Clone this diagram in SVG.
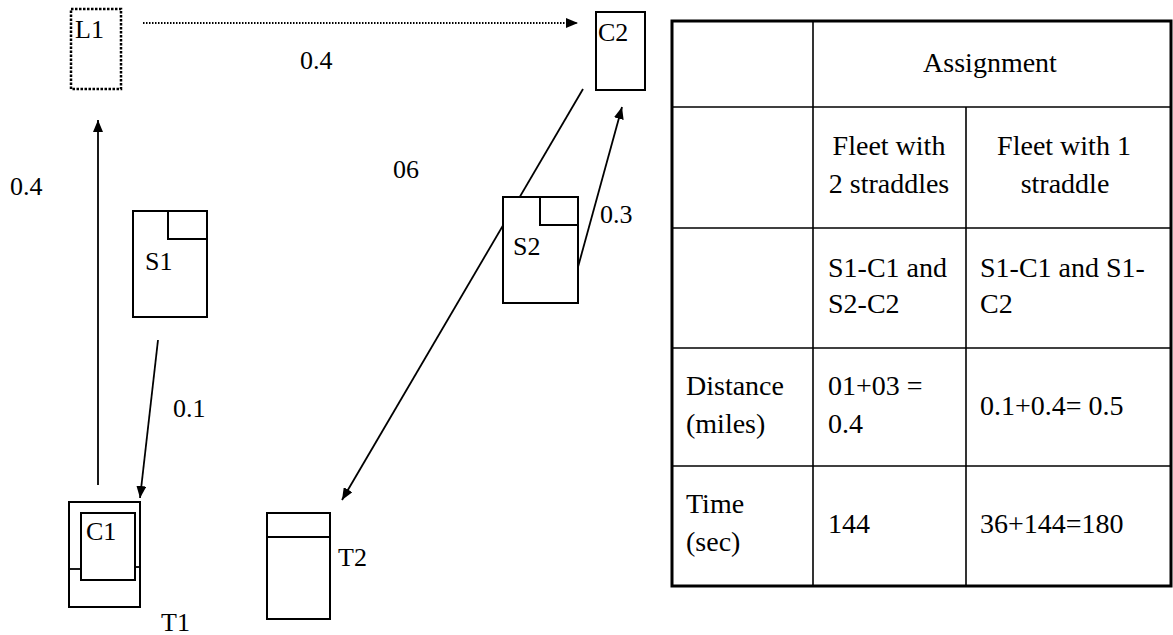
<svg xmlns="http://www.w3.org/2000/svg" width="1173" height="635" viewBox="0 0 1173 635">
<style>
.lbl{font-size:26px}
.tb{font-size:28px}
.box{fill:#fff;stroke:#000;stroke-width:2}
.ln{fill:none;stroke:#000;stroke-width:1.8}
.tl{stroke:#000;stroke-width:1.6}
.to{fill:none;stroke:#000;stroke-width:3}
</style>
<defs>
<marker id="ah" viewBox="0 0 12 10" refX="12" refY="5" markerWidth="12" markerHeight="10" markerUnits="userSpaceOnUse" orient="auto">
<path d="M0,0 L12,5 L0,10 z" fill="#000"/>
</marker>
</defs>
<rect width="1173" height="635" fill="#fff"/>
<g font-family="Liberation Serif, Tinos, Times New Roman, DejaVu Serif, serif" fill="#000">
<g id="connectors">
<line class="ln" x1="143" y1="23" x2="578" y2="23" stroke-dasharray="1.5,1.5" marker-end="url(#ah)"/>
<line class="ln" x1="98" y1="485" x2="98" y2="120" marker-end="url(#ah)"/>
<line class="ln" x1="158" y1="340" x2="140" y2="498" marker-end="url(#ah)"/>
<line class="ln" x1="578" y1="267" x2="622" y2="107" marker-end="url(#ah)"/>
<line class="ln" x1="583" y1="89" x2="342" y2="500" marker-end="url(#ah)"/>
<text class="lbl" x="300" y="69">0.4</text>
<text class="lbl" x="10" y="195">0.4</text>
<text class="lbl" x="393" y="178">06</text>
<text class="lbl" x="600" y="223">0.3</text>
<text class="lbl" x="173" y="417">0.1</text>
</g>
<g id="L1">
<rect x="71" y="9" width="50" height="80" fill="#fff" stroke="#000" stroke-width="2.5" stroke-dasharray="2.5,1.5"/>
<text class="lbl" x="75" y="38">L1</text>
</g>
<g id="C2">
<rect class="box" x="596" y="12" width="49" height="78"/>
<text class="lbl" x="598" y="41">C2</text>
</g>
<g id="S1">
<rect class="box" x="133" y="211" width="74" height="106"/>
<rect class="box" x="168" y="211" width="39" height="28"/>
<text class="lbl" x="145" y="270">S1</text>
</g>
<g id="S2">
<rect class="box" x="503" y="197" width="75" height="106"/>
<rect class="box" x="540" y="197" width="38" height="28"/>
<text class="lbl" x="513" y="255">S2</text>
</g>
<g id="T1">
<rect class="box" x="69" y="502" width="71" height="105"/>
<line class="ln" x1="69" y1="569" x2="81" y2="569"/>
<line class="ln" x1="135" y1="567" x2="140" y2="567"/>
<text class="lbl" x="161" y="631">T1</text>
</g>
<g id="C1">
<rect class="box" x="81" y="513" width="54" height="67"/>
<text class="lbl" x="86" y="540">C1</text>
</g>
<g id="T2">
<rect class="box" x="267" y="513" width="63" height="106"/>
<line class="ln" x1="267" y1="537" x2="330" y2="537"/>
<text class="lbl" x="338" y="566">T2</text>
</g>
<g id="table">
<line class="tl" x1="672" y1="107" x2="1172" y2="107"/>
<line class="tl" x1="672" y1="228" x2="1172" y2="228"/>
<line class="tl" x1="672" y1="348" x2="1172" y2="348"/>
<line class="tl" x1="672" y1="466" x2="1172" y2="466"/>
<line class="tl" x1="813" y1="21" x2="813" y2="586"/>
<line class="tl" x1="966" y1="107" x2="966" y2="586"/>
<rect class="to" x="672" y="21" width="499" height="565"/>
<text class="tb" x="990" y="72" text-anchor="middle">Assignment</text>
<text class="tb" x="889" y="155" text-anchor="middle">Fleet with</text>
<text class="tb" x="889" y="193" text-anchor="middle">2 straddles</text>
<text class="tb" x="1064" y="155" text-anchor="middle">Fleet with 1</text>
<text class="tb" x="1065" y="193" text-anchor="middle">straddle</text>
<text class="tb" x="828" y="277">S1-C1 and</text>
<text class="tb" x="828" y="313">S2-C2</text>
<text class="tb" x="980" y="277">S1-C1 and S1-</text>
<text class="tb" x="980" y="313">C2</text>
<text class="tb" x="686" y="395">Distance</text>
<text class="tb" x="686" y="433">(miles)</text>
<text class="tb" x="828" y="395">01+03 =</text>
<text class="tb" x="828" y="433">0.4</text>
<text class="tb" x="980" y="415">0.1+0.4= 0.5</text>
<text class="tb" x="686" y="513">Time</text>
<text class="tb" x="686" y="551">(sec)</text>
<text class="tb" x="828" y="533">144</text>
<text class="tb" x="980" y="533">36+144=180</text>
</g>
</g>
</svg>
